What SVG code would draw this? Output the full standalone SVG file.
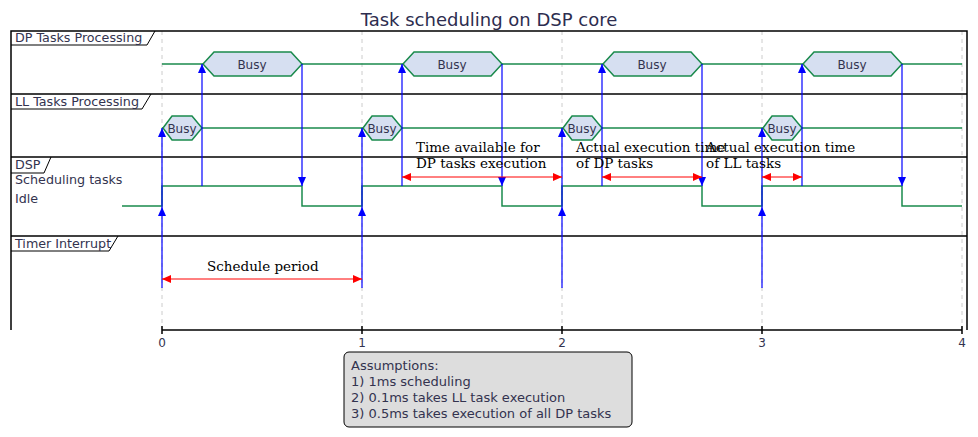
<svg xmlns="http://www.w3.org/2000/svg" width="978" height="437" viewBox="0 0 978 437">
<style>
.lbl{font-family:"DejaVu Sans",sans-serif;font-size:12.7px;fill:#33334f}
.busy{font-family:"DejaVu Sans",sans-serif;font-size:12px;fill:#33334f;text-anchor:middle}
.ser{font-family:"DejaVu Serif",serif;font-size:13.5px;fill:#000}
.frame{stroke:#000;stroke-width:1.5;fill:none}
.tab{stroke:#000;stroke-width:1;fill:none}
.grid{stroke:#cccccc;stroke-width:1;stroke-dasharray:4 4}
.sig{stroke:#1a8a4c;stroke-width:1.5;fill:none}
.hex{stroke:#1a8a4c;stroke-width:1.5;fill:#d6dff1}
.blue{stroke:#0000ff;stroke-width:1.2;fill:none}
.red{stroke:#ff0000;stroke-width:1;fill:none}
.ax{font-family:"DejaVu Sans",sans-serif;font-size:12px;fill:#33334f;text-anchor:middle}
.note{font-family:"DejaVu Sans",sans-serif;font-size:13px;fill:#33334f}
</style>
<defs>
<marker id="ab" markerUnits="userSpaceOnUse" markerWidth="10" markerHeight="8" refX="9" refY="4" orient="auto">
<path d="M0,0 L9,4 L0,8 z" fill="#0000ff"/>
</marker>
<marker id="ar" markerUnits="userSpaceOnUse" markerWidth="10" markerHeight="8" refX="9" refY="4" orient="auto">
<path d="M0,0 L9,4 L0,8 z" fill="#ff0000"/>
</marker>
<marker id="arS" markerUnits="userSpaceOnUse" markerWidth="10" markerHeight="8" refX="0" refY="4" orient="auto">
<path d="M9,0 L0,4 L9,8 z" fill="#ff0000"/>
</marker>
</defs>
<rect width="978" height="437" fill="#fff"/>
<text x="489" y="26" text-anchor="middle" style="font-family:'DejaVu Sans',sans-serif;font-size:18px;fill:#2d2d4f">Task scheduling on DSP core</text>

<g id="grid">
<line class="grid" x1="162" y1="31" x2="162" y2="330"/>
<line class="grid" x1="362" y1="31" x2="362" y2="330"/>
<line class="grid" x1="562" y1="31" x2="562" y2="330"/>
<line class="grid" x1="762" y1="31" x2="762" y2="330"/>
<line class="grid" x1="962" y1="31" x2="962" y2="330"/>
</g>

<g id="frame">
<path class="frame" d="M11,330 V31 H967 V330"/>
<line class="frame" x1="11" y1="94" x2="967" y2="94"/>
<line class="frame" x1="11" y1="157" x2="967" y2="157"/>
<line class="frame" x1="11" y1="236" x2="967" y2="236"/>
</g>

<g id="row-dp">
<path class="tab" d="M11,45 H147 L155,31"/>
<text class="lbl" x="15" y="42">DP Tasks Processing</text>
<line class="sig" x1="162" y1="64" x2="962" y2="64"/>
<polygon class="hex" points="203,64 214,52 291,52 302,64 291,76 214,76"/>
<text class="busy" x="252" y="69">Busy</text>
<polygon class="hex" points="403,64 414,52 491,52 502,64 491,76 414,76"/>
<text class="busy" x="452" y="69">Busy</text>
<polygon class="hex" points="603,64 614,52 691,52 702,64 691,76 614,76"/>
<text class="busy" x="652" y="69">Busy</text>
<polygon class="hex" points="803,64 814,52 891,52 902,64 891,76 814,76"/>
<text class="busy" x="852" y="69">Busy</text>
</g>

<g id="row-ll">
<path class="tab" d="M11,109 H142 L151,94"/>
<text class="lbl" x="15" y="106">LL Tasks Processing</text>
<line class="sig" x1="162" y1="128" x2="962" y2="128"/>
<polygon class="hex" points="163,128 172,116 192,116 202,128 192,140 172,140"/>
<text class="busy" x="182" y="133">Busy</text>
<polygon class="hex" points="363,128 372,116 392,116 402,128 392,140 372,140"/>
<text class="busy" x="382" y="133">Busy</text>
<polygon class="hex" points="563,128 572,116 592,116 602,128 592,140 572,140"/>
<text class="busy" x="582" y="133">Busy</text>
<polygon class="hex" points="763,128 772,116 792,116 802,128 792,140 772,140"/>
<text class="busy" x="782" y="133">Busy</text>
</g>

<g id="row-dsp">
<path class="tab" d="M11,173 H44 L51,157"/>
<text class="lbl" x="15" y="169">DSP</text>
<text class="lbl" x="15" y="184">Scheduling tasks</text>
<text class="lbl" x="15" y="203">Idle</text>
<path class="sig" d="M122,206 H162 V186 H302 V206 H362 V186 H502 V206 H562 V186 H702 V206 H762 V186 H902 V206 H962"/>
</g>

<g id="row-timer">
<path class="tab" d="M11,251 H109 L118,236"/>
<text class="lbl" x="15" y="248">Timer Interrupt</text>
</g>

<g id="axis">
<line x1="162" y1="330" x2="962" y2="330" stroke="#000" stroke-width="1.5"/>
<path d="M162,326 V334 M362,326 V334 M562,326 V334 M762,326 V334 M962,326 V334" stroke="#000" stroke-width="1.5"/>
<text class="ax" x="162" y="347">0</text>
<text class="ax" x="362" y="347">1</text>
<text class="ax" x="562" y="347">2</text>
<text class="ax" x="762" y="347">3</text>
<text class="ax" x="962" y="347">4</text>
</g>

<g id="connectors">
<line class="blue" x1="162" y1="288" x2="162" y2="207" marker-end="url(#ab)"/>
<line class="blue" x1="162" y1="207" x2="162" y2="128" marker-end="url(#ab)"/>
<line class="blue" x1="202" y1="186" x2="202" y2="64" marker-end="url(#ab)"/>
<line class="blue" x1="302" y1="64" x2="302" y2="186" marker-end="url(#ab)"/>
<line class="blue" x1="362" y1="288" x2="362" y2="207" marker-end="url(#ab)"/>
<line class="blue" x1="362" y1="207" x2="362" y2="128" marker-end="url(#ab)"/>
<line class="blue" x1="402" y1="186" x2="402" y2="64" marker-end="url(#ab)"/>
<line class="blue" x1="502" y1="64" x2="502" y2="186" marker-end="url(#ab)"/>
<line class="blue" x1="562" y1="288" x2="562" y2="207" marker-end="url(#ab)"/>
<line class="blue" x1="562" y1="207" x2="562" y2="128" marker-end="url(#ab)"/>
<line class="blue" x1="602" y1="186" x2="602" y2="64" marker-end="url(#ab)"/>
<line class="blue" x1="702" y1="64" x2="702" y2="186" marker-end="url(#ab)"/>
<line class="blue" x1="762" y1="288" x2="762" y2="207" marker-end="url(#ab)"/>
<line class="blue" x1="762" y1="207" x2="762" y2="128" marker-end="url(#ab)"/>
<line class="blue" x1="802" y1="186" x2="802" y2="64" marker-end="url(#ab)"/>
<line class="blue" x1="902" y1="64" x2="902" y2="186" marker-end="url(#ab)"/>

<line class="red" x1="162" y1="279" x2="362" y2="279" marker-start="url(#arS)" marker-end="url(#ar)"/>
<line class="red" x1="402" y1="177" x2="562" y2="177" marker-start="url(#arS)" marker-end="url(#ar)"/>
<line class="red" x1="602" y1="177" x2="702" y2="177" marker-start="url(#arS)" marker-end="url(#ar)"/>
<line class="red" x1="762" y1="177" x2="802" y2="177" marker-start="url(#arS)" marker-end="url(#ar)"/>
</g>

<g id="labels">
<text class="ser" x="207" y="271">Schedule period</text>
<text class="ser" x="416" y="152">Time available for</text>
<text class="ser" x="416" y="168">DP tasks execution</text>
<text class="ser" x="576" y="152">Actual execution time</text>
<text class="ser" x="576" y="168">of DP tasks</text>
<text class="ser" x="706" y="152">Actual execution time</text>
<text class="ser" x="706" y="168">of LL tasks</text>
</g>

<g id="note">
<rect x="344" y="352" width="288" height="75" rx="5" ry="5" fill="#dddddd" stroke="#000" stroke-width="1"/>
<text class="note" x="351" y="370">Assumptions:</text>
<text class="note" x="351" y="386">1) 1ms scheduling</text>
<text class="note" x="351" y="402">2) 0.1ms takes LL task execution</text>
<text class="note" x="351" y="418">3) 0.5ms takes execution of all DP tasks</text>
</g>
</svg>
